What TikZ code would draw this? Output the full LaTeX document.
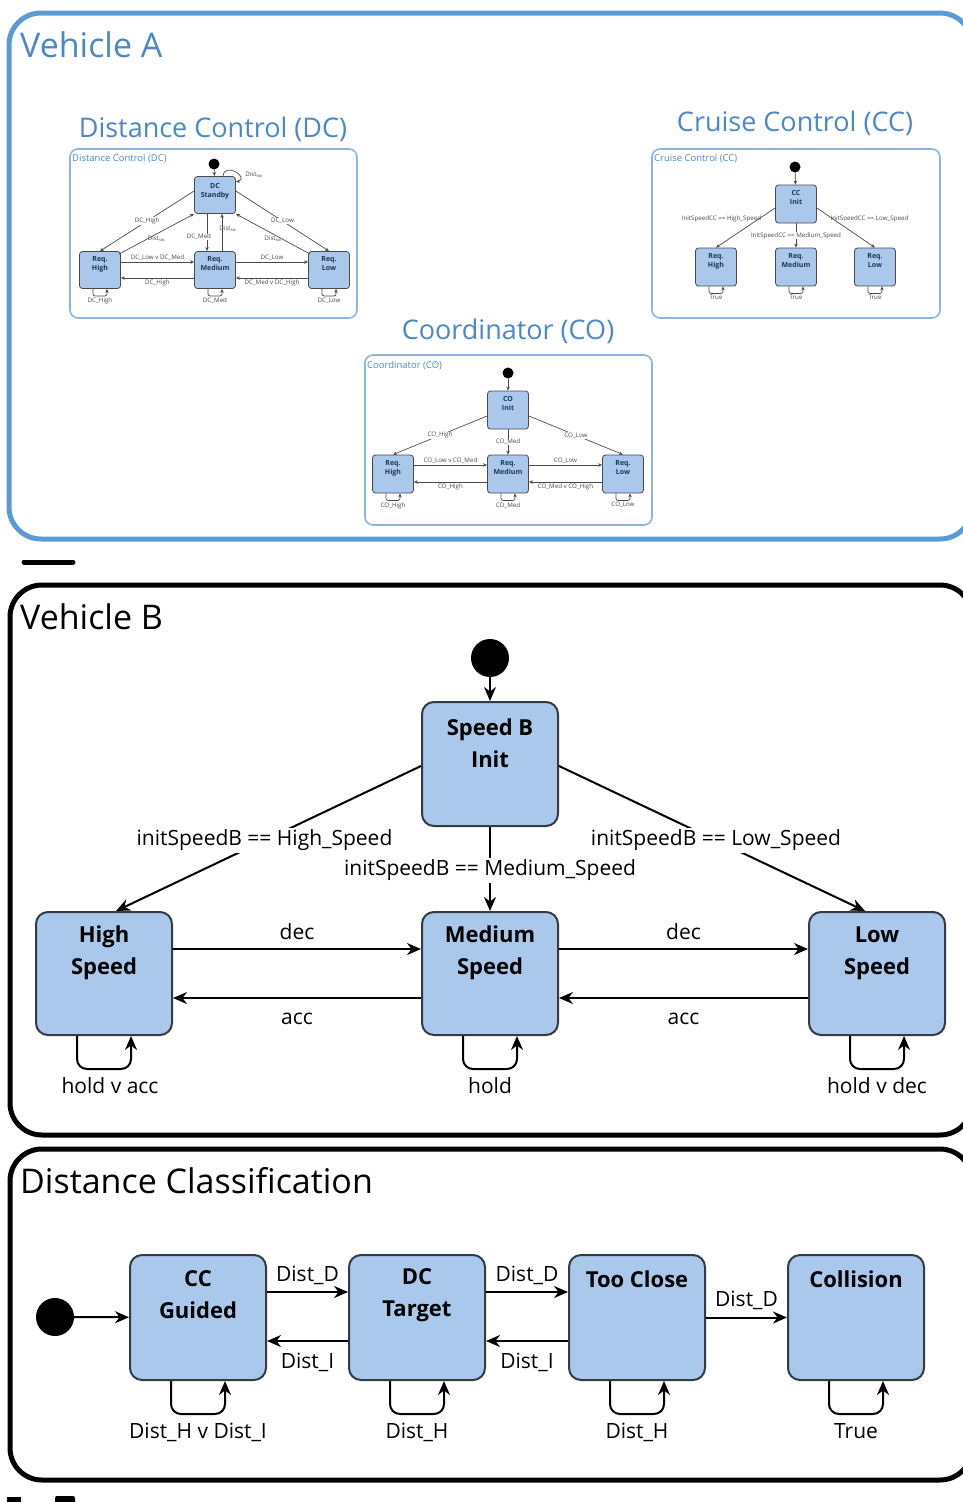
\documentclass[tikz,border=0pt]{standalone}
\usepackage{fontspec}
\setmainfont{Open Sans}
\usetikzlibrary{arrows.meta}
\definecolor{frameblue}{HTML}{5B9BD5}
\definecolor{titleblue}{HTML}{4A88C9}
\definecolor{boxfill}{HTML}{A9C8EB}
\definecolor{boxline}{HTML}{353B42}
\definecolor{panelline}{HTML}{8DB6E4}
\definecolor{minitext}{HTML}{1F3552}
\definecolor{minigray}{HTML}{4A4A4A}
\begin{document}
\begin{tikzpicture}[x=1pt,y=-1pt,
  % large state machines
  state/.style={draw=boxline, fill=boxfill, line width=2pt, rounded corners=12pt,
    minimum width=136pt, minimum height=124pt, inner sep=0pt},
  stext/.style={font=\fontsize{22}{32}\selectfont\bfseries, align=center, inner sep=0pt},
  elabel/.style={font=\fontsize{21}{25}\selectfont, inner sep=2pt},
  onlabel/.style={elabel, fill=white},
  tr/.style={line width=2pt, -{Stealth[length=14pt,width=12pt]}},
  bigloop/.style={tr, rounded corners=10pt},
  initdot/.style={circle, fill=black, minimum size=38pt, inner sep=0pt},
  section/.style={line width=5pt, rounded corners=32pt},
  bigtitle/.style={font=\fontsize{34}{40}\selectfont, anchor=west, inner sep=0pt},
  % small state machines
  paneltitle/.style={font=\fontsize{27}{32}\selectfont, text=titleblue, inner sep=0pt},
  panel/.style={draw=panelline, line width=1.6pt, rounded corners=8pt, inner sep=0pt},
  paneltag/.style={font=\fontsize{9.5}{11}\selectfont, text=titleblue, anchor=west, inner sep=0pt},
  mini/.style={draw=minigray, fill=boxfill, line width=0.8pt, rounded corners=3pt,
    minimum width=41pt, minimum height=37pt, inner sep=0pt, align=center, text depth=14pt,
    font=\fontsize{7}{9}\selectfont\bfseries, text=minitext},
  minidot/.style={circle, fill=black, minimum size=11pt, inner sep=0pt},
  marr/.style={draw=minigray, line width=0.7pt, -{Stealth[length=4pt,width=3.5pt]}},
  miniloop/.style={marr, rounded corners=2pt},
  tiny/.style={font=\fontsize{6.2}{7}\selectfont, text=minigray, inner sep=0.6pt},
  tinyon/.style={tiny, fill=white},
]
\useasboundingbox (0,0) rectangle (963,1502);

% ---------------- section frames ----------------
\draw[section, frameblue] (9,13) rectangle (972,539);
\draw[line width=5pt, line cap=round] (24,562) -- (73,562);
\draw[section] (10,585) rectangle (972,1135);
\draw[section] (10,1149) rectangle (972,1480);
\fill (7,1497) rectangle (21,1502);
\fill[rounded corners=2pt] (55,1496) rectangle (75,1504);

\node[bigtitle, text=titleblue] (tA) at (20,45) {Vehicle A};
\node[bigtitle] (tB) at (20,617) {Vehicle B};
\node[bigtitle] (tD) at (20,1181) {Distance Classification};

% ---------------- Distance Control (DC) ----------------
\node[paneltitle] (dcTitle) at (213,129) {Distance Control (DC)};
\node[panel, minimum width=287pt, minimum height=169pt] (dcPanel) at (213.5,233.5) {};
\node[paneltag] (dcTag) at (72,159) {Distance Control (DC)};
\node[minidot] (dcDot) at (214,164) {};
\node[mini, text depth=10pt] (dcStandby) at (215,195) {DC\\Standby};
\node[mini] (dcHigh) at (100,270) {Req.\\High};
\node[mini] (dcMed) at (215,270) {Req.\\Medium};
\node[mini] (dcLow) at (329,270) {Req.\\Low};
\draw[marr] (dcDot) -- (dcStandby);
\draw[marr] ([xshift=8pt]dcStandby.north) .. controls +(2,-15) and +(14,-4) .. ([yshift=-6pt]dcStandby.north east)
  node[tiny, pos=.5, right=9pt, yshift=-3pt] {Dist\textsubscript{sw}};
\draw[marr] ([yshift=4pt]dcStandby.west) -- (dcHigh.north) node[tinyon, midway] {DC\_High};
\draw[marr] ([xshift=-2pt,yshift=-3pt]dcHigh.north east) -- (dcStandby.south west)
  node[tiny, midway, yshift=-5pt] {Dist\textsubscript{sw}};
\draw[marr] ([xshift=-8pt]dcStandby.south) -- ([xshift=-8pt]dcMed.north)
  node[tinyon, pos=.62, xshift=-8pt] {DC\_Med};
\draw[marr] ([xshift=7pt]dcMed.north) -- ([xshift=7pt]dcStandby.south)
  node[tiny, pos=.6, xshift=6pt] {Dist\textsubscript{sw}};
\draw[marr] ([yshift=4pt]dcStandby.east) -- (dcLow.north) node[tinyon, midway] {DC\_Low};
\draw[marr] ([xshift=2pt,yshift=-3pt]dcLow.north west) -- (dcStandby.south east)
  node[tiny, midway, yshift=-5pt] {Dist\textsubscript{sw}};
\draw[marr] (dcHigh.east |- 0,262) -- (dcMed.west |- 0,262) node[tiny, midway, above=1pt] {DC\_Low v DC\_Med};
\draw[marr] (dcMed.west |- 0,278) -- (dcHigh.east |- 0,278) node[tiny, midway, below=1pt] {DC\_High};
\draw[marr] (dcMed.east |- 0,262) -- (dcLow.west |- 0,262) node[tiny, midway, above=1pt] {DC\_Low};
\draw[marr] (dcLow.west |- 0,278) -- (dcMed.east |- 0,278) node[tiny, midway, below=1pt] {DC\_Med v DC\_High};
\draw[miniloop] ([xshift=-7pt]dcHigh.south) -- ++(0,7) -- ++(14,0) node[tiny, midway, below=1pt] {DC\_High} -- ([xshift=7pt]dcHigh.south);
\draw[miniloop] ([xshift=-7pt]dcMed.south) -- ++(0,7) -- ++(14,0) node[tiny, midway, below=1pt] {DC\_Med} -- ([xshift=7pt]dcMed.south);
\draw[miniloop] ([xshift=-7pt]dcLow.south) -- ++(0,7) -- ++(14,0) node[tiny, midway, below=1pt] {DC\_Low} -- ([xshift=7pt]dcLow.south);

% ---------------- Cruise Control (CC) ----------------
\node[paneltitle] (ccTitle) at (795,123) {Cruise Control (CC)};
\node[panel, minimum width=288pt, minimum height=169pt] (ccPanel) at (796,233.5) {};
\node[paneltag] (ccTag) at (654,159) {Cruise Control (CC)};
\node[minidot] (ccDot) at (795,167) {};
\node[mini, minimum height=38pt] (ccInit) at (796,204) {CC\\Init};
\node[mini, minimum height=38pt] (ccHigh) at (716,267) {Req.\\High};
\node[mini, minimum height=38pt] (ccMed) at (796,267) {Req.\\Medium};
\node[mini, minimum height=38pt] (ccLow) at (875,267) {Req.\\Low};
\draw[marr] (ccDot) -- (ccInit);
\draw[marr] ([yshift=-4pt]ccInit.west) -- (ccHigh.north) node[tiny, pos=.22, anchor=east, yshift=-2pt] {InitSpeedCC == High\_Speed};
\draw[marr] ([yshift=-4pt]ccInit.east) -- (ccLow.north) node[tiny, pos=.22, anchor=west, yshift=-2pt] {InitSpeedCC == Low\_Speed};
\draw[marr] (ccInit) -- (ccMed) node[tinyon, midway] {InitSpeedCC == Medium\_Speed};
\draw[miniloop] ([xshift=-7pt]ccHigh.south) -- ++(0,7) -- ++(14,0) node[tiny, midway, below=1pt] {True} -- ([xshift=7pt]ccHigh.south);
\draw[miniloop] ([xshift=-7pt]ccMed.south) -- ++(0,7) -- ++(14,0) node[tiny, midway, below=1pt] {True} -- ([xshift=7pt]ccMed.south);
\draw[miniloop] ([xshift=-7pt]ccLow.south) -- ++(0,7) -- ++(14,0) node[tiny, midway, below=1pt] {True} -- ([xshift=7pt]ccLow.south);

% ---------------- Coordinator (CO) ----------------
\node[paneltitle] (coTitle) at (508,331) {Coordinator (CO)};
\node[panel, minimum width=287pt, minimum height=170pt] (coPanel) at (508.5,440) {};
\node[paneltag] (coTag) at (367,366) {Coordinator (CO)};
\node[minidot] (coDot) at (508,373) {};
\node[mini, minimum height=38pt] (coInit) at (508,410) {CO\\Init};
\node[mini, minimum height=38pt] (coHigh) at (393,474) {Req.\\High};
\node[mini, minimum height=38pt] (coMed) at (508,474) {Req.\\Medium};
\node[mini, minimum height=38pt] (coLow) at (623,474) {Req.\\Low};
\draw[marr] (coDot) -- (coInit);
\draw[marr] ([yshift=-6pt]coInit.west) -- (coHigh.north) node[tinyon, midway] {CO\_High};
\draw[marr] ([yshift=-6pt]coInit.east) -- (coLow.north) node[tinyon, midway] {CO\_Low};
\draw[marr] (coInit) -- (coMed) node[tinyon, midway] {CO\_Med};
\draw[marr] (coHigh.east |- 0,465) -- (coMed.west |- 0,465) node[tiny, midway, above=1pt] {CO\_Low v CO\_Med};
\draw[marr] (coMed.west |- 0,482) -- (coHigh.east |- 0,482) node[tiny, midway, below=1pt] {CO\_High};
\draw[marr] (coMed.east |- 0,465) -- (coLow.west |- 0,465) node[tiny, midway, above=1pt] {CO\_Low};
\draw[marr] (coLow.west |- 0,482) -- (coMed.east |- 0,482) node[tiny, midway, below=1pt] {CO\_Med v CO\_High};
\draw[miniloop] ([xshift=-7pt]coHigh.south) -- ++(0,7) -- ++(14,0) node[tiny, midway, below=1pt] {CO\_High} -- ([xshift=7pt]coHigh.south);
\draw[miniloop] ([xshift=-7pt]coMed.south) -- ++(0,7) -- ++(14,0) node[tiny, midway, below=1pt] {CO\_Med} -- ([xshift=7pt]coMed.south);
\draw[miniloop] ([xshift=-7pt]coLow.south) -- ++(0,7) -- ++(14,0) node[tiny, midway, below=1pt] {CO\_Low} -- ([xshift=7pt]coLow.south);

% ---------------- Vehicle B ----------------
\node[initdot] (bDot) at (490,658) {};
\node[state] (bInit) at (490,764) {};
\node[stext] (bInitT) at (490,743) {Speed B\\Init};
\node[state, minimum height=123pt] (bHigh) at (104,973.5) {};
\node[stext] (bHighT) at (104,953) {High\\Speed};
\node[state, minimum height=123pt] (bMed) at (490,973.5) {};
\node[stext] (bMedT) at (490,953) {Medium\\Speed};
\node[state, minimum height=123pt] (bLow) at (877,973.5) {};
\node[stext] (bLowT) at (877,953) {Low\\Speed};

\draw[tr] (bDot) -- (bInit);
\draw[tr] ([yshift=-2pt]bInit.west) -- ([xshift=12pt]bHigh.north) node[onlabel, midway, xshift=-4pt, yshift=-2pt] {initSpeedB == High\_Speed};
\draw[tr] ([yshift=-2pt]bInit.east) -- ([xshift=-12pt]bLow.north) node[onlabel, midway, xshift=4pt, yshift=-2pt] {initSpeedB == Low\_Speed};
\draw[tr] (bInit) -- (bMed) node[onlabel, midway, yshift=-1pt] {initSpeedB == Medium\_Speed};
\draw[tr] (bHigh.east |- 0,949) -- (bMed.west |- 0,949) node[elabel, midway, yshift=17pt] {dec};
\draw[tr] (bMed.west |- 0,998) -- (bHigh.east |- 0,998) node[elabel, midway, yshift=-21pt] {acc};
\draw[tr] (bMed.east |- 0,949) -- (bLow.west |- 0,949) node[elabel, midway, yshift=17pt] {dec};
\draw[tr] (bLow.west |- 0,998) -- (bMed.east |- 0,998) node[elabel, midway, yshift=-21pt] {acc};
\draw[bigloop] ([xshift=-27pt]bHigh.south) -- ++(0,33) -- ++(54,0) node[elabel, midway, below=6pt, xshift=6pt] {hold v acc} -- ([xshift=27pt]bHigh.south);
\draw[bigloop] ([xshift=-27pt]bMed.south) -- ++(0,33) -- ++(54,0) node[elabel, midway, below=6pt] {hold} -- ([xshift=27pt]bMed.south);
\draw[bigloop] ([xshift=-27pt]bLow.south) -- ++(0,33) -- ++(54,0) node[elabel, midway, below=6pt] {hold v dec} -- ([xshift=27pt]bLow.south);

% ---------------- Distance Classification ----------------
\node[initdot] (dDot) at (55,1317) {};
\node[state, minimum height=125pt] (dCC) at (198,1317.5) {};
\node[stext] (dCCT) at (198,1295) {CC\\Guided};
\node[state, minimum height=125pt] (dDC) at (417,1317.5) {};
\node[stext] (dDCT) at (417,1295) {DC\\Target};
\node[state, minimum height=125pt] (dTC) at (637,1317.5) {};
\node[stext] (dTCT) at (637,1279) {Too Close};
\node[state, minimum height=125pt] (dCol) at (856,1317.5) {};
\node[stext] (dColT) at (856,1279) {Collision};

\draw[tr] (dDot) -- (dCC);
\draw[tr] (dCC.east |- 0,1292) -- (dDC.west |- 0,1292) node[elabel, midway, yshift=17pt] {Dist\_D};
\draw[tr] (dDC.west |- 0,1341) -- (dCC.east |- 0,1341) node[elabel, midway, yshift=-21pt] {Dist\_I};
\draw[tr] (dDC.east |- 0,1292) -- (dTC.west |- 0,1292) node[elabel, midway, yshift=17pt] {Dist\_D};
\draw[tr] (dTC.west |- 0,1341) -- (dDC.east |- 0,1341) node[elabel, midway, yshift=-21pt] {Dist\_I};
\draw[tr] (dTC) -- (dCol) node[elabel, midway, yshift=17pt] {Dist\_D};
\draw[bigloop] ([xshift=-27pt]dCC.south) -- ++(0,33) -- ++(54,0) node[elabel, midway, below=6pt] {Dist\_H v Dist\_I} -- ([xshift=27pt]dCC.south);
\draw[bigloop] ([xshift=-27pt]dDC.south) -- ++(0,33) -- ++(54,0) node[elabel, midway, below=6pt] {Dist\_H} -- ([xshift=27pt]dDC.south);
\draw[bigloop] ([xshift=-27pt]dTC.south) -- ++(0,33) -- ++(54,0) node[elabel, midway, below=6pt] {Dist\_H} -- ([xshift=27pt]dTC.south);
\draw[bigloop] ([xshift=-27pt]dCol.south) -- ++(0,33) -- ++(54,0) node[elabel, midway, below=6pt] {True} -- ([xshift=27pt]dCol.south);
\end{tikzpicture}
\end{document}
